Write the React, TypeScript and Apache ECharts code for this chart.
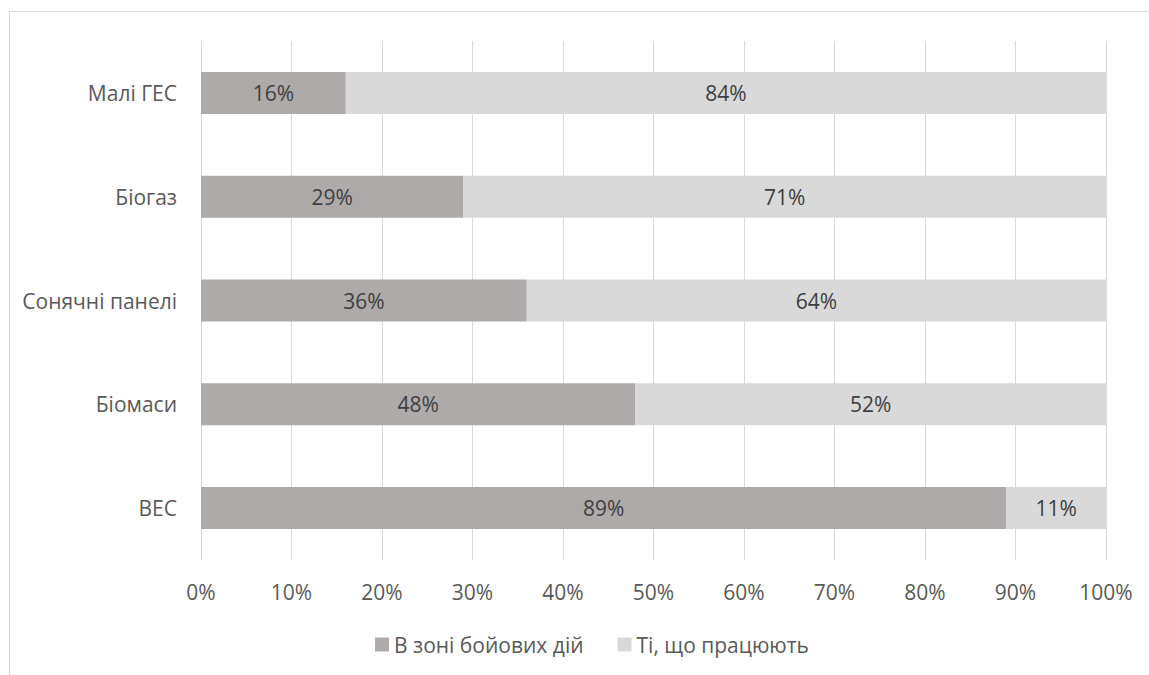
import React, { useEffect, useRef } from "react";
import * as echarts from "echarts";

// Renewable generation facilities: share located in the combat zone vs. still operating
const categories = ["Малі ГЕС", "Біогаз", "Сонячні панелі", "Біомаси", "ВЕС"];
const inCombatZone = [16, 29, 36, 48, 89];
const operating = [84, 71, 64, 52, 11];
const seriesNames = ["В зоні бойових дій", "Ті, що працюють"];

const FONT = "'Open Sans', 'Noto Sans', sans-serif";
const AXIS_TEXT = "#595959";
const LABEL_TEXT = "#404040";
const FONT_SIZE = 21;

export default function App() {
  const ref = useRef<HTMLDivElement>(null);

  useEffect(() => {
    if (!ref.current) return;
    const chart = echarts.init(ref.current, undefined, { renderer: "svg" });
    const barLabel = {
      show: true,
      position: "inside" as const,
      formatter: (p: any) => `${p.value}%`,
      color: LABEL_TEXT,
      fontFamily: FONT,
      fontSize: FONT_SIZE,
    };
    chart.setOption({
      animation: false,
      backgroundColor: "#ffffff",
      textStyle: { fontFamily: FONT },
      graphic: [
        {
          type: "rect",
          shape: { x: 9.5, y: 11.5, width: 1300, height: 900 },
          style: { fill: "none", stroke: "#D9D9D9", lineWidth: 1 },
          silent: true,
        },
      ],
      grid: { left: 201, top: 41, width: 905, height: 519, containLabel: false },
      legend: {
        left: 375,
        top: 634,
        padding: 0,
        itemWidth: 14,
        itemHeight: 14,
        itemGap: 34,
        icon: "rect",
        textStyle: { color: AXIS_TEXT, fontFamily: FONT, fontSize: FONT_SIZE },
        data: seriesNames,
      },
      xAxis: {
        type: "value",
        min: 0,
        max: 100,
        interval: 10,
        axisLine: { show: false },
        axisTick: { show: false },
        splitLine: { show: true, lineStyle: { color: "#D9D9D9", width: 1 } },
        axisLabel: {
          formatter: "{value}%",
          color: AXIS_TEXT,
          fontFamily: FONT,
          fontSize: FONT_SIZE,
          margin: 21,
        },
      },
      yAxis: {
        type: "category",
        inverse: true,
        data: categories,
        axisLine: { show: false },
        axisTick: { show: false },
        axisLabel: { color: AXIS_TEXT, fontFamily: FONT, fontSize: FONT_SIZE, margin: 24 },
      },
      series: [
        {
          name: seriesNames[0],
          type: "bar",
          stack: "total",
          barWidth: 42,
          itemStyle: { color: "#AEAAAA" },
          label: barLabel,
          data: inCombatZone,
        },
        {
          name: seriesNames[1],
          type: "bar",
          stack: "total",
          barWidth: 42,
          itemStyle: { color: "#D9D9D9" },
          label: barLabel,
          data: operating,
        },
      ],
    });
    return () => chart.dispose();
  }, []);

  return (
    <div
      ref={ref}
      style={{ position: "fixed", left: 0, top: 0, width: 1149, height: 675 }}
    />
  );
}
